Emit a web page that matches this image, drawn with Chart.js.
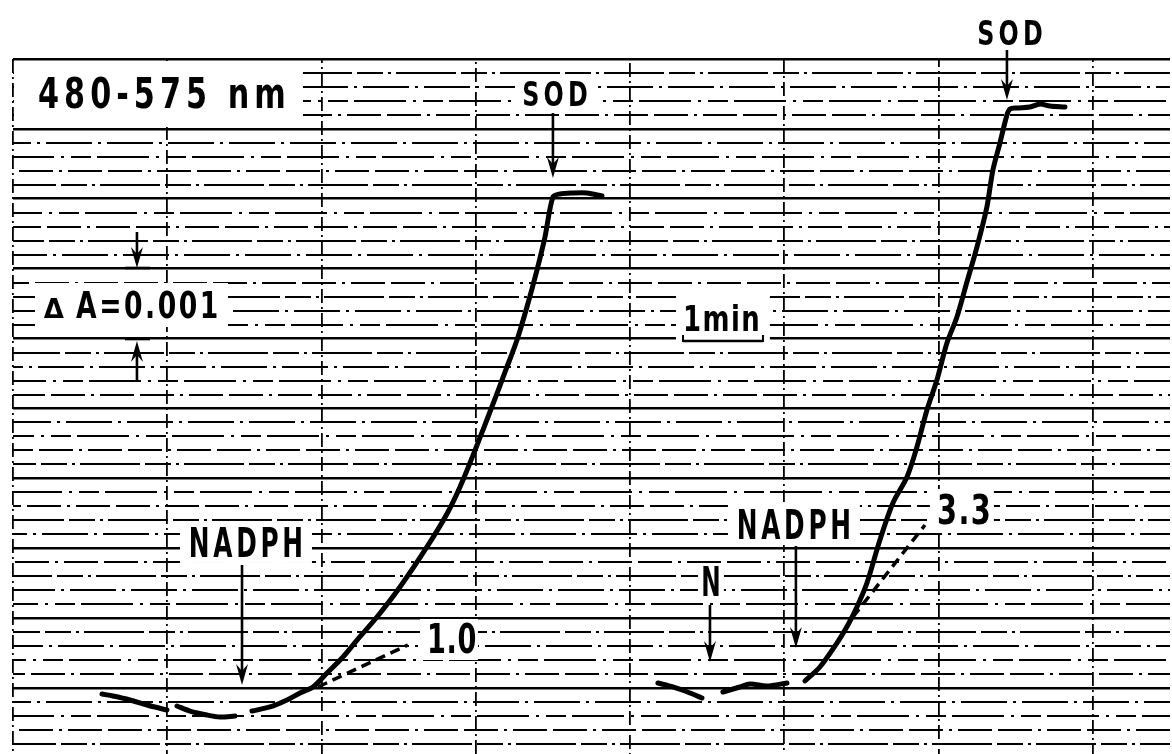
<!DOCTYPE html>
<html>
<head>
<meta charset="utf-8">
<script src="https://cdn.jsdelivr.net/npm/chart.js@4.4.1/dist/chart.umd.min.js"></script>
<style>
html,body{margin:0;padding:0;background:#fff;overflow:hidden;}
canvas{display:block;}
</style>
</head>
<body>
<canvas id="trace" width="1172" height="760"></canvas>
<script>
// time in min, absorbance change in units of 0.001 (one major division = dA 0.001)
// null = pen lifted
const leftTime = [1.154,1.296,1.517,1.737,1.996,null,2.126,2.295,2.515,2.683,2.878,null,
  3.098,3.332,3.552,3.721,3.889,4.071,4.278,4.460,4.719,5.017,5.367,5.639,5.834,6.158,
  6.404,6.534,6.663,6.793,6.897,7.000,7.091,7.260,7.441,7.636];
const leftAbs = [0.916,0.887,0.830,0.758,0.687,null,0.744,0.672,0.615,0.587,0.601,null,
  0.672,0.730,0.830,0.930,1.016,1.216,1.445,1.688,2.017,2.446,3.019,3.519,3.977,4.878,
  5.594,5.980,6.452,6.981,7.454,8.026,8.069,8.083,8.083,8.040];

const rightTime = [8.361,8.556,8.776,8.932,null,9.204,9.424,9.554,9.774,10.034,null,
  10.267,10.461,10.682,10.824,10.941,11.071,11.239,11.408,11.590,11.719,11.849,11.978,
  12.108,12.238,12.367,12.497,12.626,12.704,12.795,12.886,12.925,13.015,13.184,13.313,13.443,13.638];
const rightAbs = [1.073,1.016,0.930,0.858,null,0.944,1.016,1.059,1.030,1.073,null,
  1.102,1.302,1.645,1.903,2.160,2.504,3.119,3.648,4.020,4.449,4.979,5.408,
  5.937,6.309,6.810,7.310,7.883,8.412,8.798,9.199,9.285,9.299,9.313,9.356,9.328,9.313];

// initial-rate tangents (dashed)
const slowTime = [3.954,5.120];
const slowAbs = [1.016,1.617];
const fastTime = [10.889,11.823];
const fastAbs = [2.017,3.333];

// axis layout
const xMin = 0, xMax = 15, xStep = 2;
const yMin = 0, yMax = 10, yStep = 0.2;

// annotations, in data units
const boxes = [ // [t0, t1, vBottom, vTop]
  [0.013,3.759,9.027,9.971],
  [6.508,7.571,9.256,9.757],
  [0.285,2.787,6.166,6.795],
  [8.595,9.813,5.866,6.695],
  [2.165,3.876,2.790,3.391],
  [9.269,10.980,3.047,3.662],
  [8.880,9.217,2.232,2.761],
  [5.276,6.028,1.402,1.989],
  [11.887,12.717,3.262,3.848]
];
const labels = [ // text, t, v, size, bold, scaleX, spacing, align
  ["480-575 nm",0.324,9.299,42,true,0.72,7,"left"],
  ["SOD",7.026,9.328,34,true,0.7,6,"center"],
  ["SOD",12.925,10.200,34,true,0.7,6,"center"],
  ["A=0.001",0.817,6.295,37,true,0.72,3.5,"left"],
  ["1min",8.686,6.109,36,true,0.72,2,"left"],
  ["NADPH",3.020,2.876,40,true,0.62,6,"center"],
  ["NADPH",10.124,3.133,40,true,0.62,6,"center"],
  ["N",9.048,2.318,40,true,0.58,0,"center"],
  ["1.0",5.367,1.502,40,true,0.68,1,"left"],
  ["3.3",11.978,3.348,40,true,0.72,2,"left"]
];
const arrows = [ // t, vFrom, vTo
  [7.000,9.227,8.298],
  [12.886,10.129,9.413],
  [1.607,7.525,7.010],
  [1.607,5.393,5.966],
  [2.969,2.761,1.044],
  [10.150,3.033,1.574],
  [9.036,2.189,1.373]
];
const bars = [ // t0, t1, v
  [1.452,1.776,7.010],
  [1.452,1.776,5.994],
  [8.686,9.723,5.966]
];

// chart-paper dash patterns for the minor rules
const minorDash = [[46,6,3,6],[60,5,26,5,3,5],[34,6,34,6,3,6],[52,7,3,7,20,6]];

const pts = (ts, vs) => ts.map((t,i) => ({x:t, y:vs[i]}));
const isMajor = v => Math.abs(v - Math.round(v)) < 1e-6;

const notes = {
  id:"notes",
  beforeDraw(chart){
    const ctx = chart.ctx;
    ctx.save();
    ctx.fillStyle = "#fff";
    ctx.fillRect(0,0,chart.width,chart.height);
    ctx.restore();
  },
  beforeDatasetsDraw(chart){
    const {ctx, scales:{x, y}} = chart;
    const X = t => x.getPixelForValue(t), Y = v => y.getPixelForValue(v);
    ctx.save();
    ctx.fillStyle = "#fff";
    boxes.forEach(b => ctx.fillRect(X(b[0]), Y(b[3]), X(b[1])-X(b[0]), Y(b[2])-Y(b[3])));

    ctx.fillStyle = "#000";
    ctx.strokeStyle = "#000";
    ctx.textBaseline = "alphabetic";
    labels.forEach(l => {
      ctx.save();
      ctx.font = (l[4] ? "bold " : "") + l[3] + "px 'DejaVu Sans'";
      ctx.letterSpacing = l[6] + "px";
      ctx.textAlign = l[7];
      ctx.translate(X(l[1]), Y(l[2]));
      ctx.scale(l[5], 1);
      ctx.fillText(l[0], l[7] === "center" ? l[6]/2 : 0, 0);
      ctx.restore();
    });
    // small delta in front of A
    ctx.font = "bold 26px 'DejaVu Sans'";
    ctx.textAlign = "left";
    ctx.fillText("\u0394", X(0.400), Y(6.295));

    ctx.lineWidth = 2.6;
    ctx.lineCap = "butt";
    arrows.forEach(a => {
      const px = X(a[0]), y0 = Y(a[1]), y1 = Y(a[2]);
      const dir = y1 > y0 ? 1 : -1;
      ctx.beginPath();
      ctx.moveTo(px, y0);
      ctx.lineTo(px, y1 - dir*14);
      ctx.stroke();
      ctx.beginPath();
      ctx.moveTo(px, y1);
      ctx.lineTo(px - 6, y1 - dir*21);
      ctx.lineTo(px, y1 - dir*14);
      ctx.lineTo(px + 6, y1 - dir*21);
      ctx.closePath();
      ctx.fill();
    });
    bars.forEach(b => {
      ctx.beginPath();
      ctx.moveTo(X(b[0]), Y(b[2]));
      ctx.lineTo(X(b[1]), Y(b[2]));
      ctx.stroke();
    });
    // end ticks on the 1 min bar
    const tb = bars[2];
    ctx.lineWidth = 2;
    [tb[0], tb[1]].forEach(t => {
      ctx.beginPath();
      ctx.moveTo(X(t), Y(tb[2]) + 1);
      ctx.lineTo(X(t), Y(tb[2]) - 6);
      ctx.stroke();
    });
    ctx.restore();
  }
};

const lineStyle = {
  showLine:true, pointRadius:0, borderColor:"#000", borderWidth:5,
  borderCapStyle:"round", borderJoinStyle:"round", tension:0.3, spanGaps:false, fill:false
};
const dashStyle = {
  showLine:true, pointRadius:0, borderColor:"#000", borderWidth:3.5,
  borderDash:[10,6], tension:0, fill:false
};

new Chart(document.getElementById("trace"), {
  type:"scatter",
  data:{
    datasets:[
      Object.assign({label:"left", data:pts(leftTime, leftAbs)}, lineStyle),
      Object.assign({label:"right", data:pts(rightTime, rightAbs)}, lineStyle),
      Object.assign({label:"slope 1.0", data:pts(slowTime, slowAbs)}, dashStyle),
      Object.assign({label:"slope 3.3", data:pts(fastTime, fastAbs)}, dashStyle)
    ]
  },
  options:{
    responsive:false,
    animation:false,
    devicePixelRatio:1,
    layout:{padding:{top:59, left:13, right:2, bottom:2}},
    plugins:{legend:{display:false}, tooltip:{enabled:false}},
    scales:{
      x:{
        type:"linear", min:xMin, max:xMax,
        ticks:{display:false, stepSize:xStep},
        grid:{
          drawTicks:false, lineWidth:1.8,
          color:c => (c.tick && c.tick.value % xStep === 0) ? "#000" : "rgba(0,0,0,0)"
        },
        border:{display:false, dash:[14,4,2,4], dashOffset:c => (c.index || 0) * 5}
      },
      y:{
        type:"linear", min:yMin, max:yMax,
        ticks:{display:false, stepSize:yStep, maxTicksLimit:100},
        grid:{
          drawTicks:false, color:"#000",
          lineWidth:c => (c.tick && isMajor(c.tick.value)) ? 2.6 : 2
        },
        border:{
          display:false,
          dash:c => (c.tick && isMajor(c.tick.value)) ? [] : minorDash[(c.index || 0) % minorDash.length],
          dashOffset:c => ((c.index || 0) * 17) % 40
        }
      }
    }
  },
  plugins:[notes]
});
</script>
</body>
</html>
